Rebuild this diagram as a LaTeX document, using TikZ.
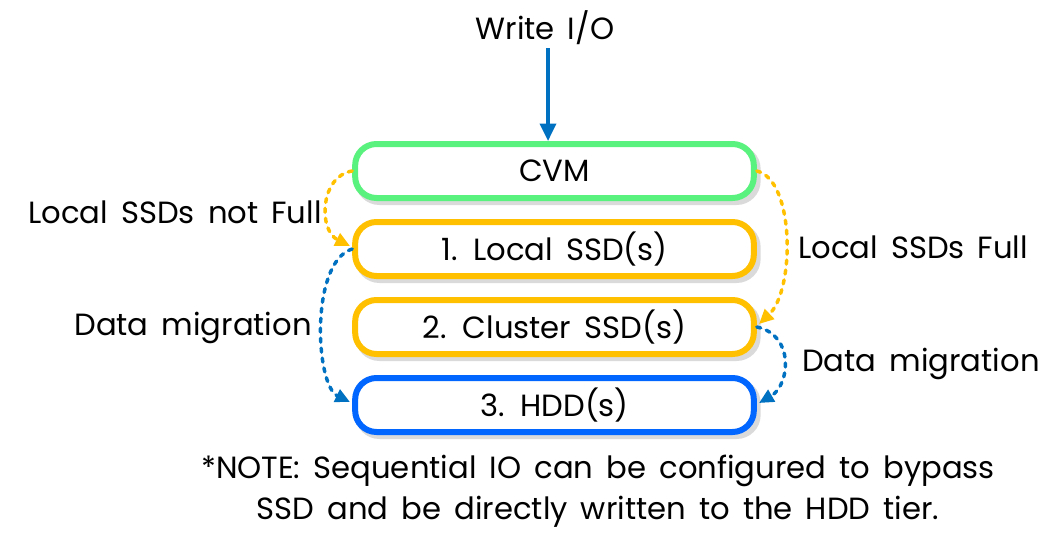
\documentclass[tikz,border=0pt]{standalone}
\usepackage{fontspec}
\setmainfont{Poppins}[WordSpace=1.6]
\usetikzlibrary{arrows.meta}
\definecolor{cvmgreen}{RGB}{90,242,126}
\definecolor{ssdorange}{RGB}{255,192,0}
\definecolor{hddblue}{RGB}{0,102,255}
\definecolor{arrblue}{RGB}{0,112,192}
\definecolor{shade}{RGB}{218,218,218}
\tikzset{
  tier/.style={draw=#1, line width=4.5pt, rounded corners=16pt, minimum width=299pt, minimum height=40.5pt, inner sep=0pt, fill=white, font=\fontsize{23}{26}\selectfont},
  tiershadow/.style={fill=shade, rounded corners=18pt, minimum width=304pt, minimum height=45pt, inner sep=0pt},
  lbl/.style={font=\fontsize{23}{26}\selectfont, inner sep=0pt},
  flowY/.style={draw=ssdorange, line width=2.6pt, dash pattern=on 3pt off 4.5pt, line cap=round, -{Triangle[length=11pt,width=10pt,line cap=butt]}},
  flowB/.style={draw=arrblue, line width=2.6pt, dash pattern=on 3pt off 4.5pt, line cap=round, -{Triangle[length=11pt,width=10pt,line cap=butt]}},
}
\begin{document}
\begin{tikzpicture}[x=0.75pt,y=-0.75pt]
\useasboundingbox (0,0) rectangle (1058,547);
% shadows
\foreach \yy in {171,249,327,405}{
  \node[tiershadow] at (558,\yy+4) {};
}
\node[tier=cvmgreen] (cvm) at (554.5,171) {CVM};
\node[tier=ssdorange] (local) at (554.5,249) {1. Local SSD(s)};
\node[tier=ssdorange] (cluster) at (554.5,327) {2. Cluster SSD(s)};
\node[tier=hddblue] (hdd) at (554.5,405) {3. HDD(s)};

\node[lbl] (wio) at (545,28) {Write I/O};
\coordinate (wiostart) at (548,48);
\draw[arrblue, line width=2.6pt, -{Triangle[length=13pt,width=12pt]}] (wiostart) -- (wiostart |- cvm.north);

% left arrows
\draw[flowY] (cvm.west) .. controls (320,176) and (318,230) .. (350,246);
\draw[flowB] (local.west) .. controls (310,262) and (315,385) .. (350,402);
% right arrows
\draw[flowY] (cvm.east) .. controls (795,180) and (795,290) .. (759,324);
\draw[flowB] (cluster.east) .. controls (795,335) and (790,385) .. (759,403);

\node[lbl, anchor=east] (lnf) at (322,212) {Local SSDs not Full};
\node[lbl, anchor=east] (dml) at (312,328) {Data migration};
\node[lbl, anchor=west] (lf) at (798,247) {Local SSDs Full};
\node[lbl, anchor=west] (dmr) at (802,364) {Data migration};

\node[lbl, align=center, font=\fontsize{23}{30.5}\selectfont] (note) at (598,491) {*NOTE: Sequential IO can be configured to bypass\\SSD and be directly written to the HDD tier.};
\end{tikzpicture}
\end{document}
